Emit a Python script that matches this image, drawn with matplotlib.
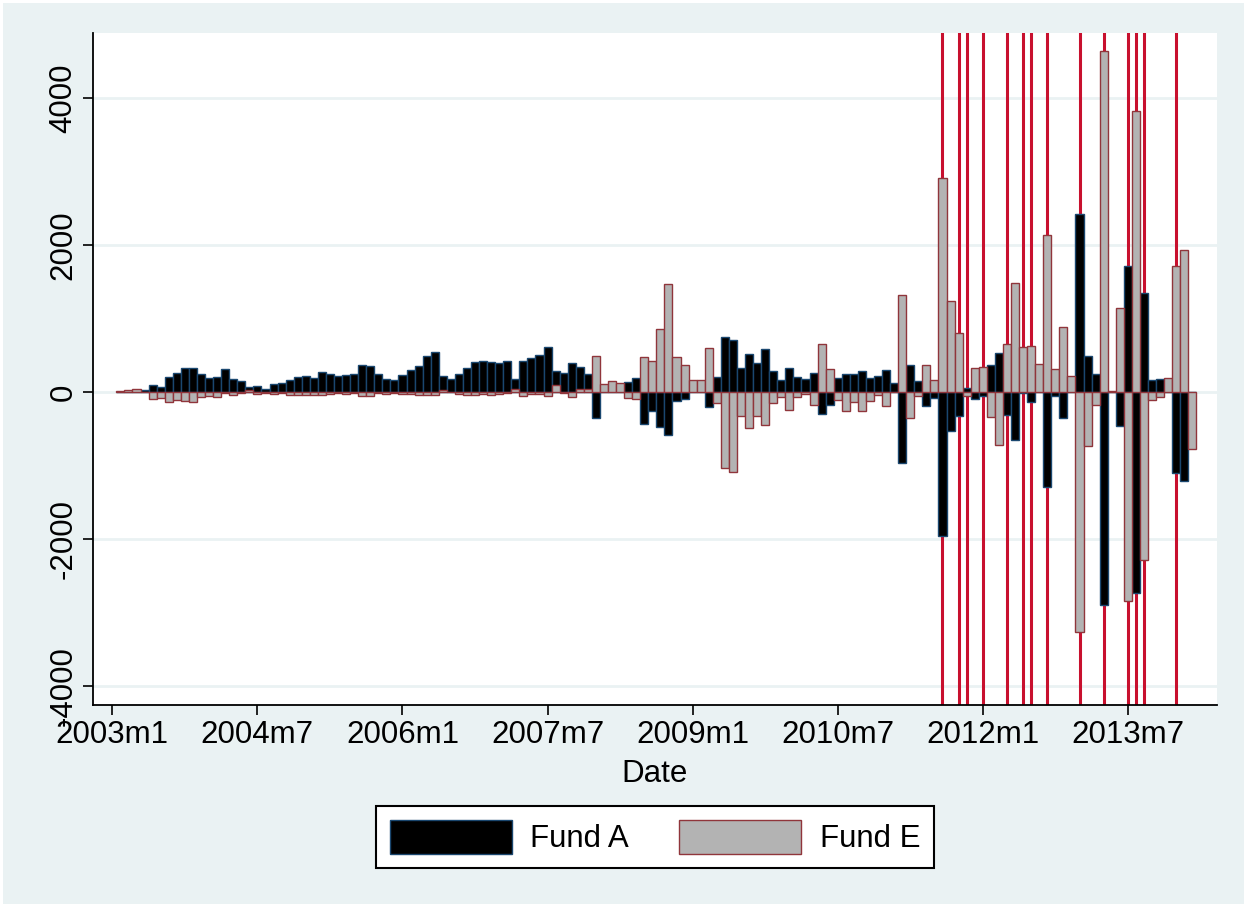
import pandas as pd
import matplotlib
matplotlib.use("Agg")
import matplotlib.pyplot as plt
from matplotlib.patches import Patch

plt.rcParams['font.family'] = ['Liberation Sans', 'DejaVu Sans']

# monthly flows, 2003m2 .. 2014m3
start = "2003-02"
fund_a = [0, 0, 0, 23, 95, 73, 204, 254, 331, 331,
          240, 186, 209, 313, 181, 145, 68, 82, 45, 113,
          122, 163, 200, 213, 190, 276, 240, 213, 227, 249,
          372, 354, 249, 177, 159, 227, 304, 349, 490, 540,
          222, 172, 249, 322, 408, 422, 404, 395, 422, 181,
          426, 458, 499, 612, 290, 258, 399, 336, 245, -358,
          10, 5, 5, 136, 190, -435, -263, -481, -585, -122,
          -91, 0, 0, -204, 204, 744, 703, 322, 517, 399,
          580, 281, 159, 322, 200, 177, 254, -299, -181, 190,
          240, 240, 290, 190, 222, 304, 118, -961, 363, 154,
          -186, -82, -1955, -535, -327, 59, -91, -54, 363, 526,
          -317, -658, -20, -136, 0, -1290, -54, -351, 0, 2427,
          486, 243, -2892, 0, -459, 1719, -2730, 1351, 157, 178,
          0, -1108, -1216, 0]
fund_e = [14, 27, 40, 0, -100, -77, -140, -104, -127, -131,
          -73, -54, -73, -20, -45, -14, 23, -32, -10, -32,
          -20, -45, -45, -40, -40, -40, -30, -20, -25, -20,
          -54, -54, -20, -25, -20, -27, -30, -36, -40, -36,
          27, 0, -27, -40, -36, -23, -36, -32, -10, 45,
          -54, -32, -32, -54, 95, -10, -63, 36, 36, 494,
          104, 150, 125, -77, -91, 478, 424, 860, 1470, 476,
          372, 159, 159, 594, -154, -1029, -1084, -327, -494, -322,
          -454, -154, -63, -245, -73, -27, -172, 658, 317, -109,
          -263, -132, -254, -127, -45, -186, 0, 1318, -349, -50,
          363, 163, 2907, 1243, 807, -50, 322, 336, -336, -726,
          653, 1487, 608, 626, 380, 2135, 313, 881, 211, -3270,
          -730, -173, 4637, 16, 1146, -2838, 3816, -2281, -103, -65,
          195, 1708, 1935, -778]
events = ["2011-08", "2011-10", "2011-11", "2012-01", "2012-04", "2012-06", "2012-07",
          "2012-09", "2013-01", "2013-04", "2013-07", "2013-08", "2013-09", "2014-01"]
tick_dates = ["2003-01", "2004-07", "2006-01", "2007-07", "2009-01", "2010-07", "2012-01", "2013-07"]

base = pd.Period("2003-01", freq="M")
def mnum(p):
    p = pd.Period(p, freq="M")
    return (p.year - base.year) * 12 + (p.month - base.month)

dates = pd.period_range(start, periods=len(fund_a), freq="M")
x = [mnum(d) for d in dates]

bg = '#EAF2F3'
fig = plt.figure(figsize=(12.47, 9.07), dpi=100, facecolor=bg)
fig.patch.set_edgecolor('white')
fig.patch.set_linewidth(3)
ax = fig.add_axes([93/1247, 1-705/907, (1217-93)/1247, (705-33)/907])
ax.set_facecolor('white')

for e in events:
    ax.axvline(mnum(e), color='#C8102E', lw=2.2, zorder=1)

ax.bar(x, fund_a, width=1, color='black', edgecolor='#1A476F', linewidth=1, zorder=2)
ax.bar(x, fund_e, width=1, color='#B3B3B3', edgecolor='#90353B', linewidth=1, zorder=3)

ax.set_xlim(-2.4, 137.06)
ax.set_ylim(-4259, 4884)
ax.set_yticks([-4000, -2000, 0, 2000, 4000])
ax.set_yticklabels(['-4000', '-2000', '0', '2000', '4000'], rotation=90, va='center')
ax.set_xticks([mnum(t) for t in tick_dates])
ax.set_xticklabels([str(pd.Period(t, freq="M").year) + "m" + str(pd.Period(t, freq="M").month) for t in tick_dates])
ax.tick_params(labelsize=22.5, length=7, width=1.2, color='black')
ax.grid(axis='y', color=bg, lw=2)
ax.set_axisbelow(True)
for s in ['top', 'right']:
    ax.spines[s].set_visible(False)
for s in ['left', 'bottom']:
    ax.spines[s].set_linewidth(1.3)
ax.set_xlabel('Date', fontsize=22.5, labelpad=7)

handles = [Patch(facecolor='black', edgecolor='#1A476F', label='Fund A'),
           Patch(facecolor='#B3B3B3', edgecolor='#90353B', label='Fund E')]
leg = fig.legend(handles=handles, loc='center', bbox_to_anchor=(655/1247, 1-837/907), ncol=2,
                 fontsize=22.5, frameon=True, fancybox=False, edgecolor='black', framealpha=1,
                 handlelength=3.9, handleheight=1.3, handletextpad=0.6, columnspacing=1.6,
                 borderpad=0.45, borderaxespad=0)
leg.get_frame().set_linewidth(1.5)

fig.savefig('out.png', dpi=100, facecolor=bg)
